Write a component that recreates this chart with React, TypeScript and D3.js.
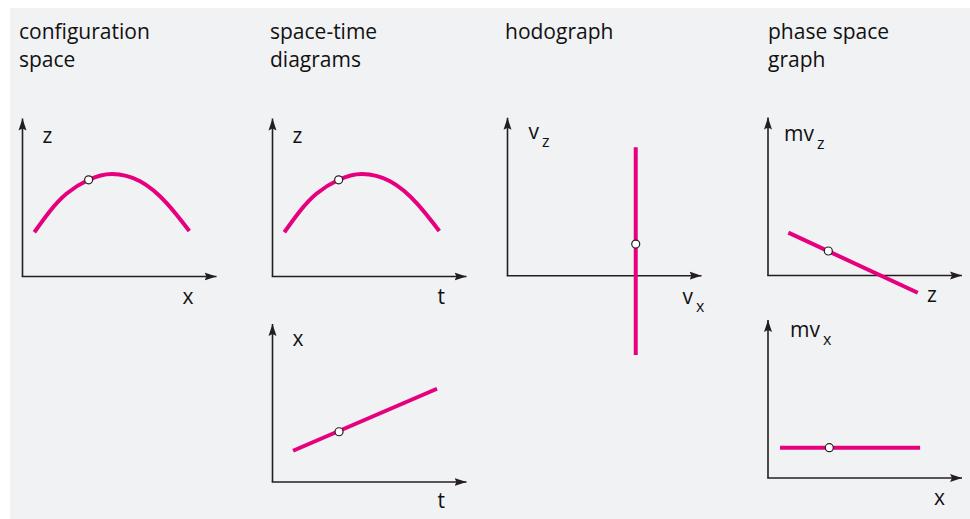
import { useEffect, useRef } from "react";
import * as d3 from "d3";

// panel titles (one entry per line)
const titles = [
  { lines: ["configuration", "space"], x: 19 },
  { lines: ["space-time", "diagrams"], x: 270 },
  { lines: ["hodograph"], x: 505 },
  { lines: ["phase space", "graph"], x: 768 },
];

// trajectory z(x) and z(t): points, axis units 0..10
const arcX = [0.61, 1.42, 2.28, 3.41, 4.61, 6.06, 7.43, 8.6];
const arcZ = [2.8, 4.14, 5.25, 6.12, 6.49, 6.03, 4.65, 2.88];
const arcDot = [3.41, 6.12];

// x(t)
const xtT = [1.06, 8.48];
const xtX = [1.98, 5.9];
const xtDot = [3.43, 3.18];

// hodograph vz(vx)
const hodoVx = [6.61, 6.61];
const hodoVz = [8.13, -5.02];
const hodoDot = [6.61, 2.0];

// phase space mvz(z)
const pzZ = [1.05, 7.72];
const pzMv = [2.71, -1.09];
const pzDot = [3.11, 1.55];

// phase space mvx(x)
const pxX = [0.62, 7.84];
const pxMv = [1.92, 1.92];
const pxDot = [3.16, 1.92];

const pink = "#e6007e";
const ink = "#231f20";
const font = "'Open Sans', 'Noto Sans', sans-serif";

type Label = { text: string; sub?: string; dx: number; dy: number };

const panels = [
  { ox: 22.5, oy: 276.5, xs: arcX, ys: arcZ, dot: arcDot, curved: true,
    yl: { text: "z", dx: 20, dy: -134 }, xl: { text: "x", dx: 160, dy: 27 } },
  { ox: 272.5, oy: 276.5, xs: arcX, ys: arcZ, dot: arcDot, curved: true,
    yl: { text: "z", dx: 20, dy: -134 }, xl: { text: "t", dx: 165, dy: 27 } },
  { ox: 272.5, oy: 482, xs: xtT, ys: xtX, dot: xtDot, curved: false,
    yl: { text: "x", dx: 20, dy: -136 }, xl: { text: "t", dx: 165, dy: 26 } },
  { ox: 507.5, oy: 275.7, xs: hodoVx, ys: hodoVz, dot: hodoDot, curved: false,
    yl: { text: "v", sub: "z", dx: 21, dy: -137 }, xl: { text: "v", sub: "x", dx: 175, dy: 28 } },
  { ox: 768, oy: 275.5, xs: pzZ, ys: pzMv, dot: pzDot, curved: false,
    yl: { text: "mv", sub: "z", dx: 16, dy: -135 }, xl: { text: "z", dx: 159, dy: 26 } },
  { ox: 768, oy: 478, xs: pxX, ys: pxMv, dot: pxDot, curved: false,
    yl: { text: "mv", sub: "x", dx: 22, dy: -141 }, xl: { text: "x", dx: 166, dy: 27 } },
];

function App() {
  const svgRef = useRef<SVGSVGElement>(null);

  useEffect(() => {
    const svg = d3.select(svgRef.current);
    svg.selectAll("*").remove();

    svg.append("defs").append("marker")
      .attr("id", "head")
      .attr("viewBox", "0 0 12 10")
      .attr("refX", 12).attr("refY", 5)
      .attr("markerWidth", 12).attr("markerHeight", 10)
      .attr("markerUnits", "userSpaceOnUse")
      .attr("orient", "auto")
      .append("path").attr("d", "M0,1 L12,5 L0,9 L2,5 Z").attr("fill", ink);

    svg.append("rect")
      .attr("x", 10).attr("y", 8).attr("width", 960).attr("height", 511)
      .attr("fill", "#f1f2f4");

    // titles
    titles.forEach(t => {
      t.lines.forEach((line, i) => {
        svg.append("text")
          .attr("x", t.x).attr("y", 39 + i * 28)
          .attr("font-family", font).attr("font-size", 21)
          .attr("fill", "#111").text(line);
      });
    });

    const addLabel = (g: any, l: Label, x: number, y: number) => {
      const txt = g.append("text").attr("x", x).attr("y", y)
        .attr("font-family", font).attr("font-size", 21).attr("fill", "#111");
      txt.append("tspan").text(l.text);
      if (l.sub) {
        txt.append("tspan").attr("dx", 3).attr("dy", 8).attr("font-size", 16).text(l.sub);
      }
    };

    panels.forEach(p => {
      const x = d3.scaleLinear().domain([0, 10]).range([p.ox, p.ox + 194]);
      const y = d3.scaleLinear().domain([0, 10]).range([p.oy, p.oy - 158]);
      const g = svg.append("g");

      g.append("line")
        .attr("x1", x(0)).attr("y1", y(0)).attr("x2", x(0)).attr("y2", y(10))
        .attr("stroke", ink).attr("stroke-width", 1.6).attr("marker-end", "url(#head)");
      g.append("line")
        .attr("x1", x(0) - 0.8).attr("y1", y(0)).attr("x2", x(10)).attr("y2", y(0))
        .attr("stroke", ink).attr("stroke-width", 1.6).attr("marker-end", "url(#head)");

      const pts = p.xs.map((v, i) => [v, p.ys[i]] as [number, number]);
      const line = d3.line<[number, number]>()
        .x(d => x(d[0])).y(d => y(d[1]))
        .curve(p.curved ? d3.curveNatural : d3.curveLinear);
      g.append("path")
        .attr("d", line(pts))
        .attr("fill", "none").attr("stroke", pink).attr("stroke-width", 4);

      g.append("circle")
        .attr("cx", x(p.dot[0])).attr("cy", y(p.dot[1])).attr("r", 4)
        .attr("fill", "#fff").attr("stroke", ink).attr("stroke-width", 1.2);

      addLabel(g, p.yl, p.ox + p.yl.dx, p.oy + p.yl.dy);
      addLabel(g, p.xl, p.ox + p.xl.dx, p.oy + p.xl.dy);
    });
  }, []);

  return (
    <svg ref={svgRef} width={970} height={519}
      style={{ position: "absolute", left: 0, top: 0, display: "block" }} />
  );
}

export default App;
